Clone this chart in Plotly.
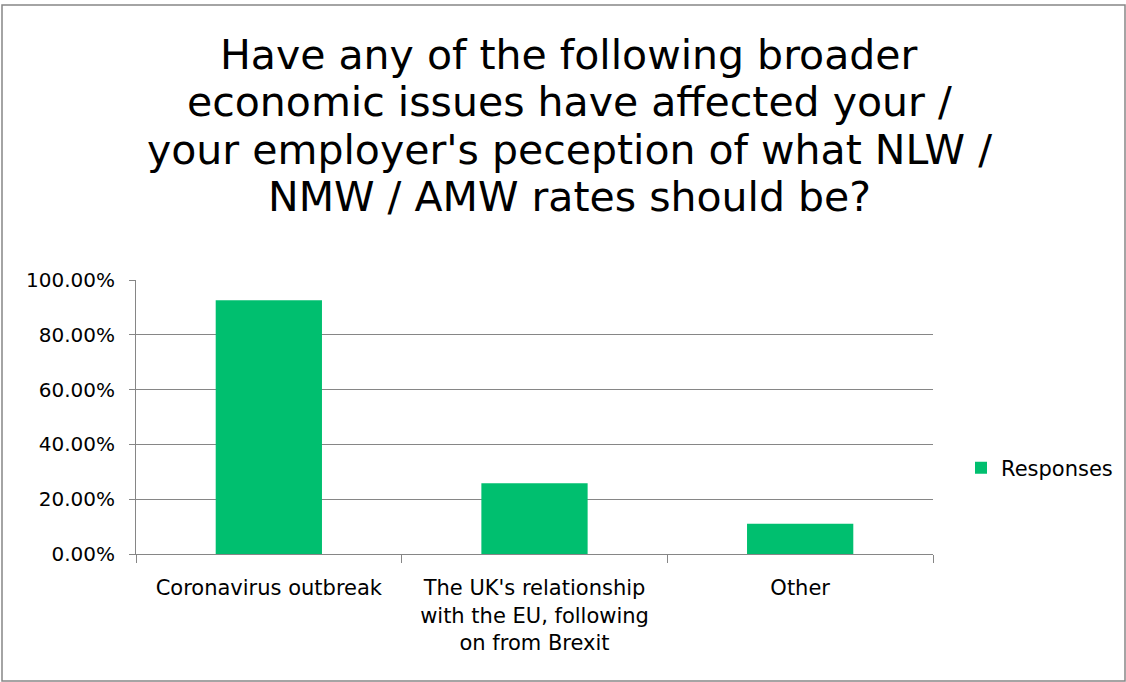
import plotly.graph_objects as go

categories = ["Coronavirus outbreak",
              "The UK's relationship<br>with the EU, following<br>on from Brexit",
              "Other"]
responses = [0.926, 0.258, 0.11]
series_name = "Responses"
title_lines = ["Have any of the following broader",
               "economic issues have affected your /",
               "your employer's peception of what NLW /",
               "NMW / AMW rates should be?"]

W, H = 1126, 682
L, R, T, B = 136, 933, 280, 554
pw, ph = R - L, B - T

def px2x(px):
    return (px - L) / pw

def py2y(py):
    return (B - py) / ph

fig = go.Figure()
fig.add_trace(go.Bar(x=categories, y=responses, name=series_name,
                     marker=dict(color="#00BF6F", line=dict(width=0)),
                     showlegend=True))

tickfont = dict(family="DejaVu Sans, Calibri, sans-serif", size=20, color="#000000")
catfont = dict(family="DejaVu Sans, Calibri, sans-serif", size=21, color="#000000")

fig.update_layout(
    width=W, height=H,
    margin=dict(l=L, r=W - R, t=T, b=H - B, autoexpand=False),
    paper_bgcolor="white", plot_bgcolor="white",
    bargap=0.6,
    showlegend=True,
    legend=dict(x=px2x(961), y=py2y(468), xanchor="left", yanchor="middle",
                font=catfont, bgcolor="rgba(0,0,0,0)", itemwidth=30),
    xaxis=dict(showline=True, linecolor="#868686", linewidth=1,
               ticks="outside", tickson="boundaries", ticklen=8, tickcolor="#868686",
               tickfont=catfont, showgrid=False, ticklabelstandoff=15),
    yaxis=dict(range=[0, 1.0], dtick=0.2, tickformat=".2%",
               showline=True, linecolor="#868686", linewidth=1,
               ticks="outside", ticklen=6, tickcolor="#868686",
               showgrid=True, gridcolor="#868686", gridwidth=1.3,
               tickfont=tickfont, zeroline=False, ticklabelstandoff=10),
)

line_centers = [55, 102, 150, 197]
for txt, cy in zip(title_lines, line_centers):
    fig.add_annotation(text=txt, xref="paper", yref="paper",
                       x=px2x(569), y=py2y(cy), xanchor="center", yanchor="middle",
                       showarrow=False,
                       font=dict(family="DejaVu Sans, Arial, sans-serif", size=41, color="#000000"))

fig.add_shape(type="rect", xref="paper", yref="paper",
              x0=px2x(2), x1=px2x(1125), y0=py2y(681), y1=py2y(5),
              line=dict(color="#868686", width=1.5), fillcolor="rgba(0,0,0,0)", layer="below")

fig.write_html("out.html")
